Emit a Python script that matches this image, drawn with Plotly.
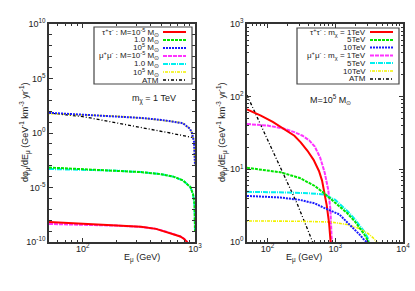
import plotly.graph_objects as go

# ---------------- data ----------------
# Left panel: m_chi = 1 TeV, different halo masses (flux read on log scale)
L_E_tt_m5 = [50, 100, 200, 330, 450, 565, 650, 740, 800, 850, 880]
L_tt_m5 = [6.8e-9, 4.7e-9, 3.3e-9, 2.5e-9, 1.6e-9, 7.9e-10, 5.0e-10, 3.2e-10, 1.9e-10, 1.0e-10, 3e-11]
L_E_mm_m5 = [50, 100, 200, 330, 450, 565, 650, 740, 800, 850, 890]
L_mm_m5 = [4.5e-9, 4.0e-9, 3.2e-9, 2.4e-9, 1.6e-9, 8.3e-10, 5.2e-10, 3.2e-10, 2.0e-10, 1.05e-10, 3e-11]

L_E_mid = [50, 100, 200, 330, 500, 640, 780, 910, 960, 990, 1000]
L_tt_1 = [6.8e-4, 5.0e-4, 3.5e-4, 2.6e-4, 1.66e-4, 1.0e-4, 4.5e-5, 1.1e-5, 2.5e-6, 3.2e-7, 1e-9]
L_mm_1 = [5.0e-4, 4.5e-4, 3.5e-4, 2.6e-4, 1.66e-4, 1.0e-4, 4.5e-5, 1.1e-5, 2.5e-6, 2.5e-7, 1e-9]

L_E_hi = [50, 100, 200, 330, 500, 650, 780, 900, 940, 980, 1000]
L_tt_5 = [71, 50, 35, 24, 16, 11, 7.9, 2.5, 1.0, 0.16, 1e-3]
L_mm_5 = [60, 48, 35, 24, 16, 11, 7.9, 2.5, 1.0, 0.16, 1e-3]

L_E_atm = [50, 100, 144, 250, 400, 600, 1000]
L_atm = [68, 32, 16, 5.6, 2.5, 1.0, 0.35]

# Right panel: M = 1e5 Msun, different DM masses
R_E_tt1 = [50, 80, 120, 173, 250, 310, 390, 480, 576, 640, 685, 750, 813, 850, 870, 890]
R_tt1 = [67, 55, 45, 36, 29, 23.5, 18, 13.5, 9.5, 7.0, 5.2, 3.2, 1.8, 1.25, 0.97, 0.63]
R_E_mm1 = [50, 100, 173, 250, 330, 415, 500, 600, 700, 790, 850, 900, 920]
R_mm1 = [42, 40, 36.5, 32.5, 29, 25, 20.5, 14.5, 9.0, 5.2, 2.8, 1.07, 0.5]

R_E_tt5 = [50, 100, 156, 300, 500, 685, 1000, 1500, 2000, 2450, 2800, 3100, 3200]
R_tt5 = [10.5, 9.5, 9.1, 7.6, 5.9, 4.7, 3.5, 2.5, 1.86, 1.46, 1.2, 1.0, 0.8]
R_E_mm5 = [50, 100, 200, 400, 685, 1000, 1560, 2000, 2700, 3000, 3100, 3200]
R_mm5 = [4.9, 4.9, 4.8, 4.7, 4.5, 3.8, 2.6, 2.0, 1.38, 1.15, 1.05, 0.8]

R_E_tt10 = [50, 100, 156, 300, 500, 685, 1150, 1560, 2000, 2300, 2600, 2900, 3100]
R_tt10 = [4.3, 4.2, 4.1, 3.8, 3.4, 2.95, 2.4, 1.8, 1.45, 1.26, 1.1, 1.0, 0.8]
R_E_mm10 = [50, 100, 300, 870, 1500, 2200, 3000, 3600, 4100, 4300]
R_mm10 = [1.95, 1.95, 1.93, 1.88, 1.74, 1.55, 1.32, 1.15, 1.0, 0.8]

R_E_atm = [50, 79, 156, 277, 465, 520]
R_atm = [105, 42, 10.5, 3.3, 1.0, 0.77]

left_labels = ["τ<sup>+</sup>τ<sup>-</sup> : M=10<sup>-5</sup> M<sub>⊙</sub>", "1.0 M<sub>⊙</sub>",
               "10<sup>5</sup> M<sub>⊙</sub>", "μ<sup>+</sup>μ<sup>-</sup> : M=10<sup>-5</sup> M<sub>⊙</sub>",
               "1.0 M<sub>⊙</sub>", "10<sup>5</sup> M<sub>⊙</sub>", "ATM"]
right_labels = ["τ<sup>+</sup>τ<sup>-</sup> : m<sub>χ</sub> = 1TeV", "5TeV", "10TeV",
                "μ<sup>+</sup>μ<sup>-</sup> : m<sub>χ</sub> = 1TeV", "5TeV", "10TeV", "ATM"]

left_y_ticks = [1e-10, 1e-5, 1, 1e5, 1e10]
left_y_text = ["10<sup>-10</sup>", "10<sup>-5</sup>", "10<sup>0</sup>", "10<sup>5</sup>", "10<sup>10</sup>"]
right_y_ticks = [1, 10, 100, 1000]
right_y_text = ["10<sup>0</sup>", "10<sup>1</sup>", "10<sup>2</sup>", "10<sup>3</sup>"]
left_x_ticks = [100, 1000]
left_x_text = ["10<sup>2</sup>", "10<sup>3</sup>"]
right_x_ticks = [100, 1000, 10000]
right_x_text = ["10<sup>2</sup>", "10<sup>3</sup>", "10<sup>4</sup>"]

# ---------------- styles ----------------
styles = [
    dict(color="#ff0000", dash="solid", width=2),
    dict(color="#00e600", dash="3px,1px", width=2),
    dict(color="#1a1aff", dash="2px,1px", width=2),
    dict(color="#ff33ff", dash="4px,1px", width=2),
    dict(color="#00f0f0", dash="5px,1px,1px,1px", width=2),
    dict(color="#f2f200", dash="1px,1px,3px,1px", width=1.6),
    dict(color="#000000", dash="3px,2px,1px,2px", width=1.3),
]

W, H = 415, 291
def px(x):
    return x / W
def py(y):
    return 1 - y / H

fig = go.Figure()

left_series = [(L_E_tt_m5, L_tt_m5), (L_E_mid, L_tt_1), (L_E_hi, L_tt_5),
               (L_E_mm_m5, L_mm_m5), (L_E_mid, L_mm_1), (L_E_hi, L_mm_5), (L_E_atm, L_atm)]
right_series = [(R_E_tt1, R_tt1), (R_E_tt5, R_tt5), (R_E_tt10, R_tt10),
                (R_E_mm1, R_mm1), (R_E_mm5, R_mm5), (R_E_mm10, R_mm10), (R_E_atm, R_atm)]

order = [6, 3, 4, 5, 0, 1, 2]
for i in order:
    x, y = left_series[i]
    fig.add_trace(go.Scatter(x=x, y=y, mode="lines", line=dict(**styles[i]),
                             xaxis="x", yaxis="y", showlegend=False))
for i in order:
    x, y = right_series[i]
    fig.add_trace(go.Scatter(x=x, y=y, mode="lines", line=dict(**styles[i]),
                             xaxis="x2", yaxis="y2", showlegend=False))

font = dict(family="Liberation Sans, Arial, sans-serif", size=9, color="#222")
axis_common = dict(type="log", showline=True, linecolor="#333", linewidth=1.5, mirror="allticks",
                   ticks="inside", ticklen=4, tickcolor="#333", tickwidth=1, showgrid=False,
                   zeroline=False, automargin=False, tickfont=font)

def minor_vals(lo, hi):
    vals = []
    for d in range(lo, hi):
        for m in range(2, 10):
            vals.append(m * 10 ** d)
    return vals

fig.update_layout(
    width=W, height=H, margin=dict(l=0, r=0, t=0, b=0),
    paper_bgcolor="white", plot_bgcolor="white", font=font,
    xaxis=dict(domain=[px(49), px(195)], range=[1.69897, 3], tickvals=left_x_ticks, ticktext=left_x_text,
               ticklabelstandoff=-3,
               minor=dict(tickvals=[v for v in minor_vals(1, 3) if v >= 50], ticks="inside", ticklen=2,
                          tickcolor="#333"), anchor="y", **axis_common),
    yaxis=dict(domain=[py(242), py(24)], range=[-10, 10], tickvals=left_y_ticks, ticktext=left_y_text,
               minor=dict(tickvals=[10.0 ** k for k in range(-10, 11) if k % 5 != 0], ticks="inside",
                          ticklen=3, tickcolor="#333"), anchor="x", **axis_common),
    xaxis2=dict(domain=[px(247), px(403)], range=[1.69897, 4], tickvals=right_x_ticks, ticktext=right_x_text,
                ticklabelstandoff=-3,
                minor=dict(tickvals=[v for v in minor_vals(1, 4) if v >= 50], ticks="inside", ticklen=2,
                           tickcolor="#333"), anchor="y2", **axis_common),
    yaxis2=dict(domain=[py(242), py(24)], range=[0, 3], tickvals=right_y_ticks, ticktext=right_y_text,
                minor=dict(tickvals=minor_vals(0, 3), ticks="inside", ticklen=2, tickcolor="#333"),
                anchor="x2", **axis_common),
)

ann = []
shapes = []
ytitle = "dφ<sub>μ</sub>/dE<sub>μ</sub> (GeV<sup>-1</sup> km<sup>-3</sup> yr<sup>-1</sup>)"
ann.append(dict(x=px(16), y=py(133), xref="paper", yref="paper", text=ytitle, textangle=-90,
                showarrow=False, font=font))
ann.append(dict(x=px(222), y=py(133), xref="paper", yref="paper", text=ytitle, textangle=-90,
                showarrow=False, font=font))
ann.append(dict(x=px(122), y=py(266), xref="paper", yref="paper", text="E<sub>μ</sub> (GeV)",
                showarrow=False, font=font))
ann.append(dict(x=px(324), y=py(266), xref="paper", yref="paper", text="E<sub>μ</sub> (GeV)",
                showarrow=False, font=font))
ann.append(dict(x=px(130), y=py(99), xref="paper", yref="paper", text="m<sub>χ</sub> = 1 TeV",
                showarrow=False, font=font))
ann.append(dict(x=px(353), y=py(99), xref="paper", yref="paper", text="M=10<sup>5</sup> M<sub>⊙</sub>",
                showarrow=False, font=font))

lfont = dict(family="Liberation Sans, Arial, sans-serif", size=8, color="#222")

def legend(box, text_right, line_x, rows, labels):
    shapes.append(dict(type="rect", xref="paper", yref="paper", x0=px(box[0]), x1=px(box[1]),
                       y0=py(box[3]), y1=py(box[2]), line=dict(color="#444", width=1.2),
                       fillcolor="white", layer="above"))
    for i, (lab, yy) in enumerate(zip(labels, rows)):
        ann.append(dict(x=px(text_right), y=py(yy), xref="paper", yref="paper", text=lab,
                        xanchor="right", yanchor="middle", showarrow=False, font=lfont,
                        borderpad=0))
        st = styles[i]
        shapes.append(dict(type="line", xref="paper", yref="paper", x0=px(line_x[0]), x1=px(line_x[1]),
                           y0=py(yy), y1=py(yy), layer="above",
                           line=dict(color=st["color"], dash=st["dash"], width=st["width"])))

legend((94, 192, 27, 84), 160, (163, 186), [32, 40, 48, 56, 64, 72, 80], left_labels)
legend((297, 399, 28, 84), 367, (370, 393), [32, 40, 47.5, 55.5, 63, 71, 79], right_labels)

fig.update_layout(annotations=ann, shapes=shapes)
fig.write_html("out.html", config={"displayModeBar": False},
               post_script="document.body.style.margin='0';")
